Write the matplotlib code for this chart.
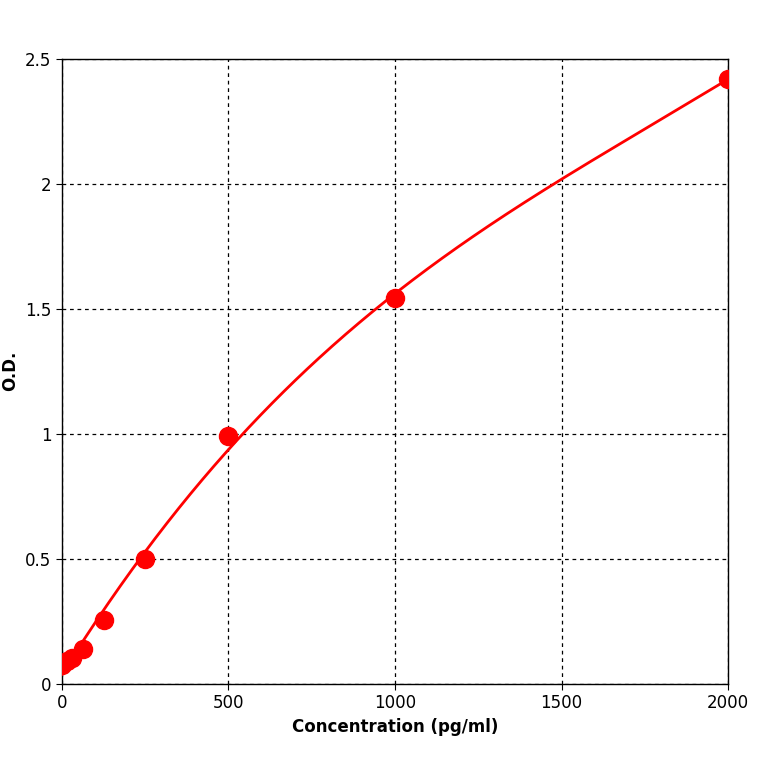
import numpy as np
import matplotlib
matplotlib.use("Agg")
import matplotlib.pyplot as plt

conc = [0, 15.6, 31.25, 62.5, 125, 250, 500, 1000, 2000]
od = [0.076, 0.09, 0.105, 0.14, 0.255, 0.50, 0.99, 1.545, 2.42]
xticks = [0, 500, 1000, 1500, 2000]
yticks = [0, 0.5, 1, 1.5, 2, 2.5]
yticklabels = ["0", "0.5", "1", "1.5", "2", "2.5"]

fig = plt.figure(figsize=(7.64, 7.64), dpi=100)
ax = fig.add_axes([0.081, 0.105, 0.872, 0.818])
coef = np.polyfit(conc, od, 3)
xs = np.linspace(0, 2000, 400)
ax.plot(xs, np.polyval(coef, xs), color="red", lw=2, zorder=3)
ax.plot(conc, od, "o", color="red", ms=13, zorder=4)
ax.set_xlim(0, 2000)
ax.set_ylim(0, 2.5)
ax.set_xticks(xticks)
ax.set_yticks(yticks)
ax.set_yticklabels(yticklabels)
ax.grid(True, color="black", ls=(0, (3, 3)), lw=0.9)
ax.tick_params(labelsize=12, length=4)
ax.set_xlabel("Concentration (pg/ml)", fontsize=12, fontweight="bold")
ax.set_ylabel("O.D.", fontsize=12, fontweight="bold")
for s in ax.spines.values():
    s.set_linewidth(1)
fig.savefig("out.png", dpi=100)
